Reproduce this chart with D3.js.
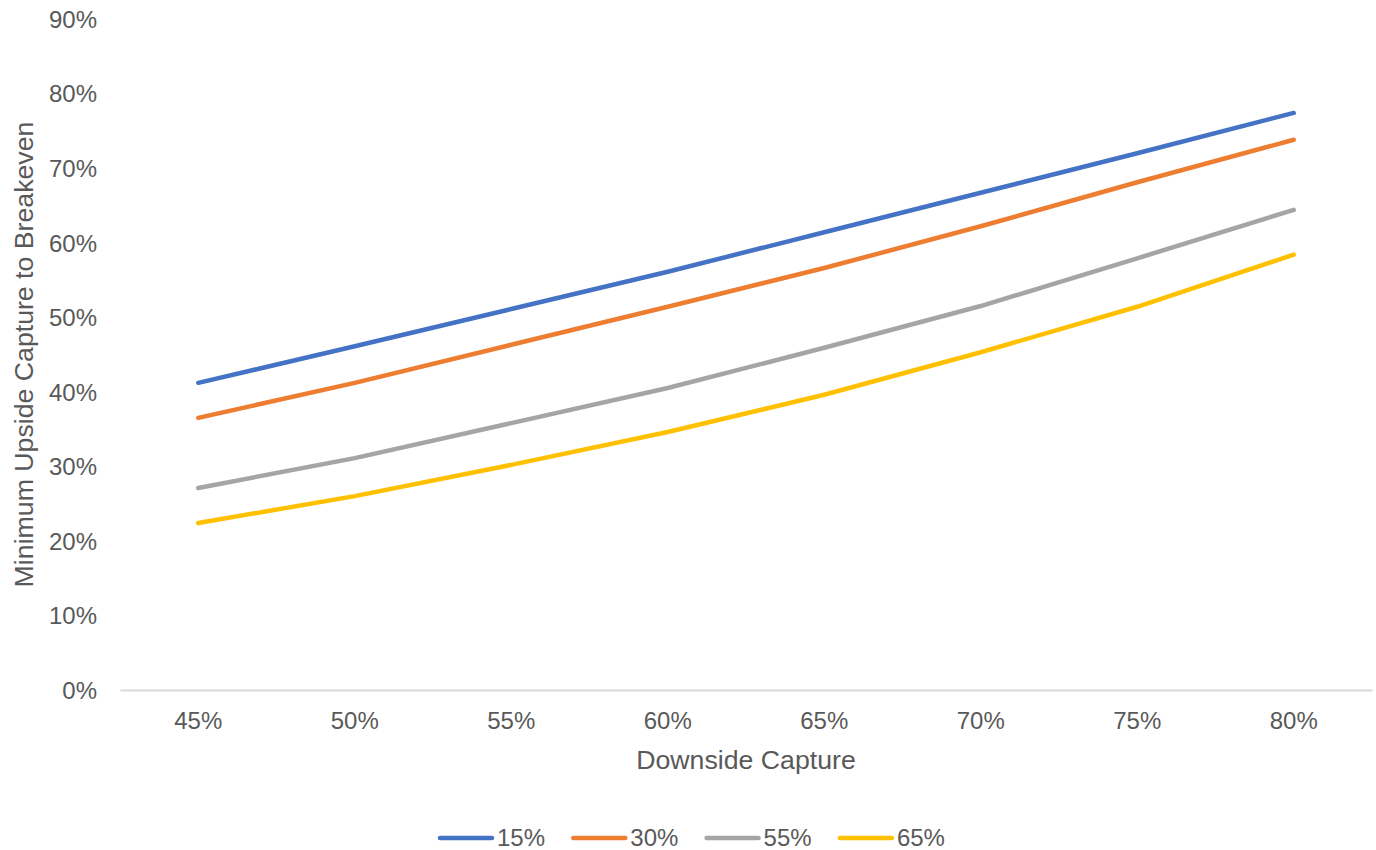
<!DOCTYPE html>
<html>
    <head>
        <title>Minimum Upside Capture to Breakeven</title>
        <script src="https://d3js.org/d3.v7.min.js"></script>
        <style>
            * {
                font-family: 'Liberation Sans', Arial, sans-serif;
            }
            body {
                margin: 0;
                background: #ffffff;
                overflow: hidden;
            }
            svg {
                display: block;
            }
            .tick text {
                fill: #595959;
                font-size: 24px;
            }
        </style>
    </head>
    <body>
        <script>
            const categories = ['45%', '50%', '55%', '60%', '65%', '70%', '75%', '80%'];
            const seriesNames = ['15%', '30%', '55%', '65%'];
            const colors = ['#4472c4', '#ed7d31', '#a5a5a5', '#ffc000'];
            const s15 = [41.2, 46.1, 51.1, 56.1, 61.4, 66.7, 72.0, 77.4];
            const s30 = [36.5, 41.2, 46.3, 51.4, 56.6, 62.2, 68.1, 73.8];
            const s55 = [27.1, 31.1, 35.8, 40.5, 45.9, 51.5, 57.9, 64.4];
            const s65 = [22.4, 26.0, 30.2, 34.6, 39.6, 45.3, 51.4, 58.4];
            const yTicks = [0, 10, 20, 30, 40, 50, 60, 70, 80, 90];

            const width = 1376;
            const height = 850;
            const margin = { top: 19, right: 4, bottom: 160, left: 120 };

            const svg = d3.select('body').append('svg').attr('width', width).attr('height', height);

            const x = d3
                .scaleBand()
                .domain(categories)
                .range([margin.left, width - margin.right]);
            const y = d3
                .scaleLinear()
                .domain([0, 90])
                .range([height - margin.bottom, margin.top]);

            // y axis, labels only
            const yAxis = svg
                .append('g')
                .attr('transform', `translate(${margin.left - 23},0)`)
                .call(d3.axisLeft(y).tickValues(yTicks).tickFormat((d) => d + '%').tickSize(0).tickPadding(0));
            yAxis.select('.domain').remove();
            yAxis.selectAll('text').attr('dy', '0.35em');

            // x axis
            const xAxis = svg
                .append('g')
                .attr('transform', `translate(0,${y(0)})`)
                .call(d3.axisBottom(x).tickSize(0).tickPadding(22));
            xAxis.select('.domain').attr('stroke', '#d9d9d9').attr('stroke-width', 2);

            svg.append('text')
                .attr('x', (margin.left + width - margin.right) / 2)
                .attr('y', 769)
                .attr('text-anchor', 'middle')
                .attr('fill', '#595959')
                .attr('font-size', 26.7)
                .text('Downside Capture');

            svg.append('text')
                .attr('transform', `translate(33,${(y(0) + y(90)) / 2}) rotate(-90)`)
                .attr('text-anchor', 'middle')
                .attr('fill', '#595959')
                .attr('font-size', 26.7)
                .text('Minimum Upside Capture to Breakeven');

            const allSeries = [s15, s30, s55, s65];
            const line = d3
                .line()
                .x((d, i) => x(categories[i]) + x.bandwidth() / 2)
                .y((d) => y(d));

            svg.append('g')
                .selectAll('path')
                .data(allSeries)
                .join('path')
                .attr('d', line)
                .attr('fill', 'none')
                .attr('stroke', (d, i) => colors[i])
                .attr('stroke-width', 4.5)
                .attr('stroke-linecap', 'round')
                .attr('stroke-linejoin', 'round');

            // legend
            const legend = svg
                .append('g')
                .selectAll('g')
                .data(seriesNames)
                .join('g')
                .attr('transform', (d, i) => `translate(${440 + i * 133.3},838)`);
            legend
                .append('line')
                .attr('x1', 0)
                .attr('x2', 52)
                .attr('stroke', (d, i) => colors[i])
                .attr('stroke-width', 4.5)
                .attr('stroke-linecap', 'round');
            legend
                .append('text')
                .attr('x', 57)
                .attr('dy', '0.35em')
                .attr('fill', '#595959')
                .attr('font-size', 24)
                .text((d) => d);
        </script>
    </body>
</html>
